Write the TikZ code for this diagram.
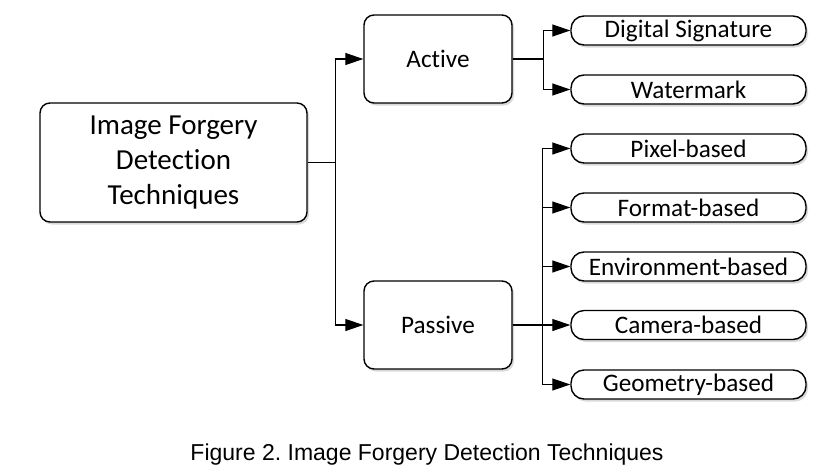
\documentclass[tikz,border=0pt]{standalone}
\usepackage{fontspec}
\setmainfont{Carlito}[RawFeature={-liga;-clig;-dlig;-rlig;-calt}]
\newfontfamily\captionfont{Liberation Sans}
\usetikzlibrary{arrows.meta,shadows}

\begin{document}
\begin{tikzpicture}[x=1pt,y=-1pt,
  box/.style={draw, line width=1.4pt, fill=white, rounded corners=10pt,
    drop shadow={shadow xshift=2pt, shadow yshift=-2.5pt, opacity=.3},
    inner sep=0pt, align=center},
  rootbox/.style={box, minimum width=267pt, minimum height=119pt,
    font=\fontsize{29}{35}\selectfont},
  kindbox/.style={box, minimum width=148pt, minimum height=88pt,
    font=\fontsize{25.2}{30}\selectfont},
  leafbox/.style={box, rounded corners=13pt, minimum width=235pt, minimum height=29pt,
    font=\fontsize{25.2}{30}\selectfont},
  link/.style={line width=1.2pt, -{Triangle[length=18pt,width=12pt]}}]
\useasboundingbox (0,0) rectangle (826,474);

\node[rootbox] (root) at (173.5,162.5) {Image Forgery\\Detec\kern0pt tion\\Techniques};

\node[kindbox] (active) at (438,59) {Ac\kern0pt tive};
\node[kindbox] (passive) at (438,325) {Passive};

\node[leafbox] (sig) at (688.5,30.5) {Digital Signature};
\node[leafbox] (wm) at (688.5,89.5) {Watermark};

\node[leafbox] (pix) at (688.5,148.5) {Pixel-based};
\node[leafbox] (fmt) at (688.5,207.5) {Format-based};
\node[leafbox] (env) at (688.5,266.5) {Environment-based};
\node[leafbox] (cam) at (688.5,325) {Camera-based};
\node[leafbox] (geo) at (688.5,384.5) {Geometry-based};

\draw[link] (root.east) -- ++(28,0) |- (active.west);
\draw[link] (root.east) -- ++(28,0) |- (passive.west);

\draw[link] (active.east) -- ++(31,0) |- (sig.west);
\draw[link] (active.east) -- ++(31,0) |- (wm.west);

\foreach \leaf in {pix,fmt,env,cam,geo}
  \draw[link] (passive.east) -- ++(30,0) |- (\leaf.west);

\node[font=\captionfont\fontsize{23}{27}\selectfont\frenchspacing] (caption) at (427,455)
  {Figure 2. Image Forgery Detection Techniques};
\end{tikzpicture}
\end{document}
